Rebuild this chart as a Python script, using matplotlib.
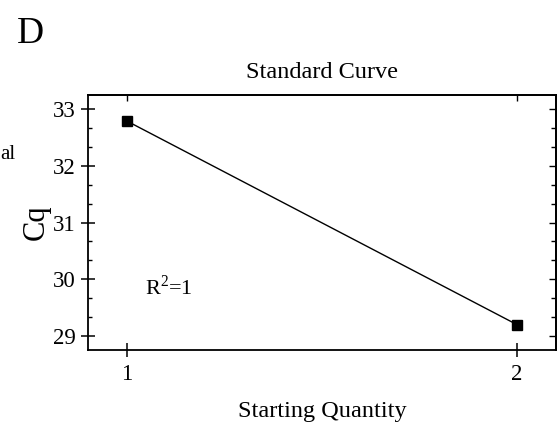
import numpy as np
import matplotlib
matplotlib.use("Agg")
import matplotlib.pyplot as plt
from matplotlib.ticker import MultipleLocator

plt.rcParams['font.family'] = ['Liberation Serif', 'DejaVu Serif']
plt.rcParams['mathtext.fontset'] = 'custom'
plt.rcParams['mathtext.rm'] = 'Liberation Serif'

# data
quantity = [1, 2]
cq = [32.79, 29.2]
r2_text = 'R$^2$=1'

fig = plt.figure(figsize=(5.57, 4.28), dpi=100)
ax = fig.add_axes([0.158, 0.182, 0.84, 0.596])

ax.plot(quantity, cq, color='black', lw=1.0, marker='s', ms=6.5, mfc='black', mec='black')

ax.set_xlim(0.9, 2.1)
ax.set_ylim(28.75, 33.25)
ax.set_xticks([1, 2])
ax.set_yticks([29, 30, 31, 32, 33])
ax.yaxis.set_minor_locator(MultipleLocator(1 / 3))

for s in ax.spines.values():
    s.set_linewidth(1.3)

ax.tick_params(axis='both', which='major', direction='inout', length=9.5, width=1.1,
               labelsize=16.5, pad=4)
ax.tick_params(axis='x', which='major', pad=5)
ax.tick_params(axis='y', which='minor', direction='in', length=3, width=1.0)
ax.tick_params(right=False, top=False, which='both')

# inward ticks on the right and top sides
ry = ax.secondary_yaxis('right')
ry.set_yticks([29, 30, 31, 32, 33])
ry.yaxis.set_minor_locator(MultipleLocator(1 / 3))
ry.tick_params(which='major', direction='in', length=5, width=1.0, labelright=False)
ry.tick_params(which='minor', direction='in', length=3.5, width=1.0)
ry.spines['right'].set_linewidth(1.3)

tx = ax.secondary_xaxis('top')
tx.set_xticks([1, 2])
tx.tick_params(which='major', direction='in', length=4.5, width=1.0, labeltop=False)
tx.spines['top'].set_linewidth(1.3)

ax.set_title('Standard Curve', fontsize=17.5, pad=12)
ax.set_xlabel('Starting Quantity', fontsize=17.5, labelpad=12)
ax.set_ylabel('Cq', fontsize=22, labelpad=1.5)

ax.text(1.046, 29.72, r2_text, fontsize=16)

fig.text(0.03, 0.9, 'D', fontsize=27)
fig.text(0.0, 0.628, 'al', fontsize=15, ha='left')

fig.savefig('out.png', dpi=100)
